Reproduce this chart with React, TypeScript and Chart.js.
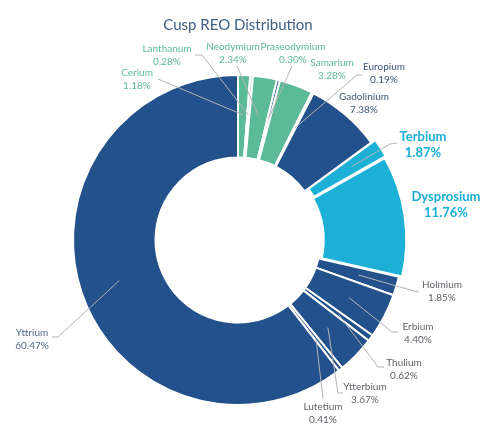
import { useEffect, useRef } from "react";
import { Chart, registerables } from "chart.js";

Chart.register(...registerables);

// Rare-earth oxide shares, clockwise from 12 o'clock
const elements = [
  "Cerium", "Lanthanum", "Neodymium", "Praseodymium", "Samarium", "Europium",
  "Gadolinium", "Terbium", "Dysprosium", "Holmium", "Erbium", "Thulium",
  "Ytterbium", "Lutetium", "Yttrium",
];
const shares = [
  1.18, 0.28, 2.34, 0.3, 3.28, 0.19, 7.38, 1.87, 11.76, 1.85, 4.4, 0.62, 3.67, 0.41, 60.47,
];
const chartTitle = "Cusp REO Distribution";

const BLUE = "#22518c";
const GREEN = "#5bba98";
const PALE = "#b9e2d3";
const CYAN = "#1cb0d6";
const sliceColors = [
  GREEN, PALE, GREEN, BLUE, GREEN, BLUE, BLUE, CYAN, CYAN, BLUE, BLUE, BLUE, BLUE, BLUE, BLUE,
];
const sliceOffsets = [0, 0, 0, 0, 0, 0, 0, 10, 10, 0, 0, 0, 0, 0, 0];

type Tone = "green" | "navy" | "cyan" | "gray" | "slate";
const toneColor: Record<Tone, string> = {
  green: "#5cb999",
  navy: "#3a5679",
  cyan: "#1aaed4",
  gray: "#5f6368",
  slate: "#4d6a8a",
};

// Label block centres and leader bends, in px relative to the ring centre
type LabelSpot = { tone: Tone; at: [number, number]; leader: [number, number][] };
const labelSpots: LabelSpot[] = [
  { tone: "green", at: [-101, -160.5], leader: [[-80, -161]] },
  { tone: "green", at: [-71, -184.5], leader: [[-43, -185], [-36, -185]] },
  { tone: "green", at: [-5, -187], leader: [[-1, -174]] },
  { tone: "green", at: [55, -187], leader: [[54, -174]] },
  { tone: "green", at: [94, -170.5], leader: [] },
  { tone: "navy", at: [146, -166.5], leader: [[124, -165], [119, -165]] },
  { tone: "navy", at: [126, -136.5], leader: [] },
  { tone: "cyan", at: [185, -95.5], leader: [[159, -97], [152, -96]] },
  { tone: "cyan", at: [208, -35.5], leader: [] },
  { tone: "gray", at: [204, 51.5], leader: [[181, 52], [176, 51]] },
  { tone: "gray", at: [180, 93], leader: [[160, 92], [154, 92]] },
  { tone: "gray", at: [166, 129.5], leader: [[146, 127], [140, 127]] },
  { tone: "gray", at: [127, 153.5], leader: [[105, 153], [100, 153]] },
  { tone: "gray", at: [85, 173.5], leader: [[85, 159]] },
  { tone: "slate", at: [-206, 99], leader: [[-186, 97], [-180, 97]] },
];

const FONT = "Lato, 'Open Sans', sans-serif";

const calloutPlugin = {
  id: "callouts",
  afterDraw(chart: any) {
    const ctx: CanvasRenderingContext2D = chart.ctx;
    const meta = chart.getDatasetMeta(0);
    const arcs = meta.data;
    if (!arcs.length) return;
    const cx = arcs[0].x;
    const cy = arcs[0].y;
    ctx.save();

    // title
    ctx.fillStyle = "#3f5e80";
    ctx.font = `15px ${FONT}`;
    ctx.textAlign = "center";
    ctx.textBaseline = "middle";
    ctx.fillText(chartTitle, cx, cy - 215);

    arcs.forEach((arc: any, i: number) => {
      const spot = labelSpots[i];
      const { startAngle, endAngle, outerRadius } = arc.getProps(
        ["startAngle", "endAngle", "outerRadius"],
        true
      );
      const mid = (startAngle + endAngle) / 2;
      const off = arc.options.offset || 0;
      const r = outerRadius * 0.76 + off;
      const ax = cx + Math.cos(mid) * r;
      const ay = cy + Math.sin(mid) * r;

      if (spot.leader.length) {
        ctx.strokeStyle = "#b4b4b4";
        ctx.lineWidth = 1;
        ctx.beginPath();
        spot.leader.forEach(([dx, dy], k) => {
          if (k === 0) ctx.moveTo(cx + dx, cy + dy);
          else ctx.lineTo(cx + dx, cy + dy);
        });
        ctx.lineTo(ax, ay);
        ctx.stroke();
      }

      const bold = spot.tone === "cyan";
      const size = bold ? 13 : 10;
      const gap = bold ? 16 : 13;
      ctx.fillStyle = toneColor[spot.tone];
      ctx.font = `${bold ? "bold " : ""}${size}px ${FONT}`;
      ctx.textAlign = "center";
      ctx.textBaseline = "middle";
      const tx = cx + spot.at[0];
      const ty = cy + spot.at[1];
      ctx.fillText(elements[i], tx, ty - gap / 2);
      ctx.fillText(shares[i].toFixed(2) + "%", tx, ty + gap / 2);
    });
    ctx.restore();
  },
};

export default function App() {
  const canvasRef = useRef<HTMLCanvasElement | null>(null);

  useEffect(() => {
    const canvas = canvasRef.current;
    if (!canvas) return;
    const chart = new Chart(canvas, {
      type: "doughnut",
      data: {
        labels: elements,
        datasets: [
          {
            data: shares,
            backgroundColor: sliceColors,
            borderColor: "#ffffff",
            borderWidth: 2,
            offset: sliceOffsets,
          },
        ],
      },
      options: {
        responsive: false,
        animation: false,
        radius: 165,
        cutout: "50%",
        rotation: 0,
        layout: { padding: { left: 0, right: 24, top: 41, bottom: 0 } },
        plugins: {
          legend: { display: false },
          tooltip: { enabled: false },
          title: { display: false },
        },
      },
      plugins: [calloutPlugin],
    });
    return () => chart.destroy();
  }, []);

  return (
    <div style={{ position: "absolute", left: 0, top: 0, width: 500, height: 439, background: "#fff" }}>
      <canvas ref={canvasRef} width={500} height={439} />
    </div>
  );
}
